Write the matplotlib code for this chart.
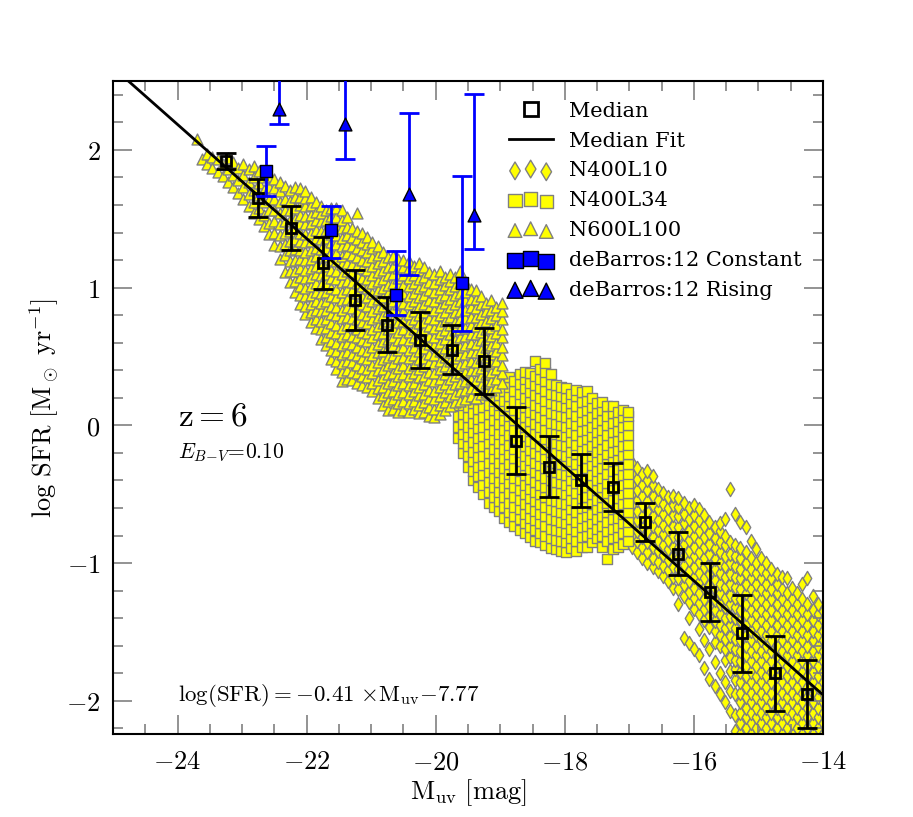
import matplotlib
matplotlib.use('Agg')
import matplotlib.pyplot as plt
from matplotlib.ticker import MultipleLocator, FuncFormatter

plt.rcParams['font.family'] = 'DejaVu Serif'
plt.rcParams['mathtext.fontset'] = 'cm'

## medianas del conjunto de simulaciones
med_x = [-23.25, -22.75, -22.25, -21.75, -21.25, -20.75, -20.25, -19.75, -19.25, -18.75,
         -18.25, -17.75, -17.25, -16.75, -16.25, -15.75, -15.25, -14.75, -14.25]
med_y = [1.92, 1.65, 1.43, 1.18, 0.91, 0.73, 0.62, 0.55, 0.47, -0.11,
         -0.30, -0.40, -0.45, -0.70, -0.93, -1.21, -1.51, -1.80, -1.95]
med_err = [0.06, 0.14, 0.16, 0.19, 0.22, 0.20, 0.20, 0.18, 0.24, 0.245,
           0.22, 0.19, 0.175, 0.14, 0.155, 0.21, 0.28, 0.27, 0.25]

## ajuste de la mediana
fit_slope = -0.414
fit_icpt = -7.752
fit_x = [-25.0, -14.0]

## de Barros et al. 2012
dbc_x = [-22.63, -21.63, -20.61, -19.59]
dbc_y = [1.845, 1.42, 0.944, 1.033]
dbc_lo = [0.18, 0.205, 0.14, 0.35]
dbc_hi = [0.18, 0.175, 0.325, 0.775]

dbr_x = [-22.43, -21.41, -20.41, -19.40]
dbr_y = [2.30, 2.19, 1.683, 1.525]
dbr_lo = [0.115, 0.255, 0.594, 0.247]
dbr_hi = [1.0, 1.0, 0.588, 0.884]

## N600L100 (triangulos), por columnas de Muv
tri_cols = [-23.70, -23.62, -23.54, -23.46, -23.38, -23.30, -23.22, -23.14, -23.06, -22.98,
            -22.90, -22.82, -22.74, -22.66, -22.58, -22.50, -22.42, -22.34, -22.26, -22.18,
            -22.10, -22.02, -21.94, -21.86, -21.78, -21.70, -21.62, -21.54, -21.46, -21.38,
            -21.30, -21.22, -21.14, -21.06, -20.98, -20.90, -20.82, -20.74, -20.66, -20.58,
            -20.50, -20.42, -20.34, -20.26, -20.18, -20.10, -20.02, -19.94, -19.86, -19.78,
            -19.70, -19.62, -19.54, -19.46, -19.38, -19.30, -19.22, -19.14, -19.06, -18.98]
tri_ys = [
    [2.08],
    [1.93],
    [1.90, 1.97],
    [1.87, 1.95],
    [1.84, 1.93],
    [1.81, 1.90],
    [1.77, 1.86, 1.94],
    [1.73, 1.82, 1.91],
    [1.69, 1.78, 1.87],
    [1.64, 1.73, 1.82, 1.90],
    [1.59, 1.68, 1.77, 1.86],
    [1.54, 1.62, 1.71, 1.80, 1.88],
    [1.50, 1.58, 1.67, 1.76, 1.85],
    [1.45, 1.53, 1.62, 1.71, 1.80],
    [1.39, 1.47, 1.56, 1.64, 1.73, 1.81],
    [1.31, 1.40, 1.48, 1.56, 1.64, 1.72, 1.79],
    [1.21, 1.30, 1.38, 1.46, 1.54, 1.62, 1.70, 1.77],
    [1.11, 1.24, 1.32, 1.40, 1.48, 1.56, 1.64, 1.74],
    [1.04, 1.12, 1.19, 1.27, 1.34, 1.41, 1.49, 1.56, 1.63, 1.71],
    [0.97, 1.05, 1.12, 1.20, 1.28, 1.35, 1.43, 1.50, 1.58, 1.66, 1.73],
    [0.88, 0.95, 1.01, 1.08, 1.14, 1.21, 1.27, 1.34, 1.40, 1.47, 1.53, 1.60, 1.66, 1.72],
    [0.81, 0.87, 0.94, 1.00, 1.07, 1.13, 1.20, 1.26, 1.33, 1.39, 1.46, 1.52, 1.59, 1.65, 1.70],
    [0.75, 0.82, 0.88, 0.95, 1.01, 1.08, 1.14, 1.21, 1.27, 1.34, 1.40, 1.47, 1.53, 1.60, 1.66],
    [0.71, 0.77, 0.84, 0.90, 0.97, 1.03, 1.10, 1.16, 1.23, 1.29, 1.36, 1.42, 1.49, 1.55, 1.62],
    [0.63, 0.70, 0.76, 0.83, 0.89, 0.96, 1.02, 1.09, 1.15, 1.22, 1.28, 1.35, 1.41, 1.48, 1.54, 1.59],
    [0.58, 0.64, 0.71, 0.77, 0.84, 0.90, 0.97, 1.03, 1.10, 1.16, 1.23, 1.29, 1.36, 1.42, 1.49, 1.56],
    [0.48, 0.55, 0.61, 0.68, 0.74, 0.81, 0.87, 0.94, 1.00, 1.07, 1.13, 1.20, 1.26, 1.33, 1.39, 1.46,
     1.52, 1.58],
    [0.41, 0.47, 0.54, 0.60, 0.67, 0.73, 0.80, 0.86, 0.93, 0.99, 1.06, 1.12, 1.19, 1.25, 1.32, 1.38,
     1.45, 1.51, 1.58],
    [0.32, 0.39, 0.45, 0.52, 0.58, 0.65, 0.71, 0.78, 0.84, 0.91, 0.97, 1.04, 1.10, 1.17, 1.23, 1.30,
     1.36, 1.43, 1.49, 1.56],
    [0.34, 0.40, 0.47, 0.53, 0.60, 0.66, 0.73, 0.79, 0.86, 0.92, 0.99, 1.05, 1.12, 1.18, 1.25, 1.31,
     1.38, 1.44, 1.51],
    [0.33, 0.39, 0.46, 0.52, 0.59, 0.65, 0.72, 0.78, 0.85, 0.91, 0.98, 1.04, 1.11, 1.17, 1.24, 1.30,
     1.37, 1.43],
    [0.31, 0.38, 0.44, 0.51, 0.57, 0.64, 0.70, 0.77, 0.83, 0.90, 0.96, 1.03, 1.09, 1.16, 1.22, 1.29,
     1.35, 1.41, 1.54],
    [0.29, 0.36, 0.42, 0.49, 0.55, 0.62, 0.68, 0.75, 0.81, 0.88, 0.94, 1.01, 1.07, 1.14, 1.20, 1.27,
     1.33, 1.40],
    [0.28, 0.35, 0.41, 0.48, 0.54, 0.61, 0.67, 0.74, 0.80, 0.87, 0.93, 1.00, 1.06, 1.13, 1.19, 1.26,
     1.32, 1.37],
    [0.25, 0.31, 0.38, 0.44, 0.51, 0.57, 0.64, 0.70, 0.77, 0.83, 0.90, 0.96, 1.03, 1.09, 1.16, 1.22,
     1.29, 1.33],
    [0.20, 0.27, 0.33, 0.40, 0.46, 0.53, 0.59, 0.66, 0.72, 0.79, 0.85, 0.92, 0.98, 1.05, 1.11, 1.18,
     1.24, 1.30],
    [0.15, 0.22, 0.28, 0.35, 0.41, 0.48, 0.54, 0.61, 0.67, 0.74, 0.80, 0.87, 0.93, 1.00, 1.06, 1.13,
     1.19, 1.26],
    [0.11, 0.18, 0.24, 0.31, 0.37, 0.44, 0.50, 0.57, 0.63, 0.70, 0.76, 0.83, 0.89, 0.96, 1.02, 1.09,
     1.15, 1.22],
    [0.12, 0.19, 0.25, 0.32, 0.38, 0.45, 0.51, 0.58, 0.64, 0.71, 0.77, 0.84, 0.90, 0.97, 1.03, 1.10,
     1.16, 1.23],
    [0.10, 0.16, 0.23, 0.29, 0.36, 0.42, 0.49, 0.55, 0.62, 0.68, 0.75, 0.81, 0.88, 0.94, 1.01, 1.07,
     1.14, 1.21],
    [0.11, 0.18, 0.24, 0.31, 0.37, 0.44, 0.50, 0.57, 0.63, 0.70, 0.76, 0.83, 0.89, 0.96, 1.02, 1.09,
     1.15, 1.20],
    [0.10, 0.16, 0.23, 0.29, 0.36, 0.42, 0.49, 0.55, 0.62, 0.68, 0.75, 0.81, 0.88, 0.94, 1.01, 1.07,
     1.14, 1.19],
    [0.12, 0.18, 0.25, 0.31, 0.38, 0.44, 0.51, 0.57, 0.64, 0.70, 0.77, 0.83, 0.90, 0.96, 1.03, 1.09,
     1.16],
    [0.09, 0.15, 0.22, 0.28, 0.35, 0.41, 0.48, 0.54, 0.61, 0.67, 0.74, 0.80, 0.87, 0.93, 1.00, 1.06,
     1.13, 1.18],
    [0.10, 0.17, 0.23, 0.30, 0.36, 0.43, 0.49, 0.56, 0.62, 0.69, 0.75, 0.82, 0.88, 0.95, 1.01, 1.08,
     1.15],
    [0.07, 0.13, 0.20, 0.26, 0.33, 0.39, 0.46, 0.52, 0.59, 0.65, 0.72, 0.78, 0.85, 0.91, 0.98, 1.04,
     1.11],
    [0.06, 0.12, 0.19, 0.25, 0.32, 0.38, 0.45, 0.51, 0.58, 0.64, 0.71, 0.77, 0.84, 0.90, 0.97, 1.03,
     1.10],
    [0.08, 0.15, 0.21, 0.28, 0.34, 0.41, 0.47, 0.54, 0.60, 0.67, 0.73, 0.80, 0.86, 0.93, 0.99, 1.06,
     1.12],
    [0.11, 0.17, 0.24, 0.30, 0.37, 0.43, 0.50, 0.56, 0.63, 0.69, 0.76, 0.82, 0.89, 0.95, 1.02, 1.08],
    [0.14, 0.21, 0.27, 0.34, 0.40, 0.47, 0.53, 0.60, 0.66, 0.73, 0.79, 0.86, 0.92, 0.99, 1.05, 1.10],
    [0.17, 0.23, 0.30, 0.36, 0.43, 0.49, 0.56, 0.62, 0.69, 0.75, 0.82, 0.88, 0.95, 1.01, 1.08],
    [0.18, 0.25, 0.31, 0.38, 0.44, 0.51, 0.57, 0.64, 0.70, 0.77, 0.83, 0.90, 0.96, 1.03, 1.12],
    [0.19, 0.26, 0.32, 0.39, 0.45, 0.52, 0.58, 0.65, 0.71, 0.78, 0.84, 0.91, 0.97, 1.04],
    [0.21, 0.27, 0.34, 0.40, 0.47, 0.53, 0.60, 0.66, 0.73, 0.79, 0.86, 0.92, 0.99],
    [0.20, 0.27, 0.33, 0.40, 0.46, 0.53, 0.59, 0.66, 0.72, 0.79, 0.85, 0.92, 0.98],
    [0.23, 0.29, 0.36, 0.42, 0.49, 0.55, 0.62, 0.68, 0.75, 0.81, 0.88, 0.94],
    [0.24, 0.31, 0.37, 0.44, 0.50, 0.57, 0.63, 0.70, 0.76, 0.83, 0.89],
    [0.26, 0.32, 0.39, 0.45, 0.52, 0.58, 0.65, 0.71, 0.78, 0.84, 0.91],
    [0.28, 0.34, 0.41, 0.47, 0.54, 0.60, 0.67, 0.73, 0.80, 0.86],
    [0.31, 0.38, 0.44, 0.51, 0.57, 0.64, 0.70, 0.77, 0.83, 0.89],
]

## N400L34 (cuadrados)
sq_cols = [-19.66, -19.58, -19.50, -19.42, -19.34, -19.26, -19.18, -19.10, -19.02, -18.94,
           -18.86, -18.78, -18.70, -18.62, -18.54, -18.46, -18.38, -18.30, -18.22, -18.14,
           -18.06, -17.98, -17.90, -17.82, -17.74, -17.66, -17.58, -17.50, -17.42, -17.34,
           -17.26, -17.18, -17.10, -17.02]
sq_ys = [
    [-0.09, -0.01, 0.07, 0.15, 0.22],
    [-0.20, -0.13, -0.06, 0.01, 0.08, 0.15, 0.22],
    [-0.30, -0.22, -0.15, -0.08, -0.01, 0.06, 0.13, 0.20, 0.27],
    [-0.40, -0.33, -0.26, -0.19, -0.12, -0.05, 0.02, 0.09, 0.16, 0.23, 0.29],
    [-0.45, -0.37, -0.30, -0.23, -0.16, -0.09, -0.02, 0.05, 0.12, 0.19, 0.26],
    [-0.50, -0.43, -0.36, -0.29, -0.22, -0.15, -0.08, -0.01, 0.06, 0.13, 0.20, 0.27],
    [-0.56, -0.48, -0.41, -0.34, -0.27, -0.20, -0.13, -0.06, 0.01, 0.08, 0.15, 0.22, 0.29],
    [-0.59, -0.52, -0.45, -0.38, -0.31, -0.24, -0.17, -0.10, -0.03, 0.04, 0.11, 0.18, 0.25, 0.32],
    [-0.62, -0.55, -0.48, -0.41, -0.34, -0.27, -0.20, -0.13, -0.06, 0.01, 0.08, 0.15, 0.22, 0.29],
    [-0.67, -0.59, -0.52, -0.45, -0.38, -0.31, -0.24, -0.17, -0.10, -0.03, 0.04, 0.11, 0.18, 0.25,
     0.33],
    [-0.70, -0.63, -0.56, -0.49, -0.42, -0.35, -0.28, -0.21, -0.14, -0.07, 0.00, 0.07, 0.14, 0.21,
     0.28, 0.35],
    [-0.73, -0.66, -0.59, -0.52, -0.45, -0.38, -0.31, -0.24, -0.17, -0.10, -0.03, 0.04, 0.11, 0.18,
     0.25, 0.32],
    [-0.76, -0.68, -0.61, -0.54, -0.47, -0.40, -0.33, -0.26, -0.19, -0.12, -0.05, 0.02, 0.09, 0.16,
     0.23, 0.30, 0.37],
    [-0.78, -0.71, -0.64, -0.57, -0.50, -0.43, -0.36, -0.29, -0.22, -0.15, -0.08, -0.01, 0.06, 0.13,
     0.20, 0.27, 0.34, 0.39],
    [-0.81, -0.74, -0.67, -0.60, -0.53, -0.46, -0.39, -0.32, -0.25, -0.18, -0.11, -0.04, 0.03, 0.10,
     0.17, 0.24, 0.31, 0.38],
    [-0.84, -0.76, -0.69, -0.62, -0.55, -0.48, -0.41, -0.34, -0.27, -0.20, -0.13, -0.06, 0.01, 0.08,
     0.15, 0.22, 0.29, 0.36, 0.47],
    [-0.85, -0.78, -0.71, -0.64, -0.57, -0.50, -0.43, -0.36, -0.29, -0.22, -0.15, -0.08, -0.01, 0.06,
     0.13, 0.20, 0.27, 0.34, 0.41],
    [-0.87, -0.80, -0.73, -0.66, -0.59, -0.52, -0.45, -0.38, -0.31, -0.24, -0.17, -0.10, -0.03, 0.04,
     0.11, 0.18, 0.25, 0.32, 0.39, 0.45],
    [-0.89, -0.82, -0.75, -0.68, -0.61, -0.54, -0.47, -0.40, -0.33, -0.26, -0.19, -0.12, -0.05, 0.02,
     0.09, 0.16, 0.23, 0.30, 0.37],
    [-0.90, -0.83, -0.76, -0.69, -0.62, -0.55, -0.48, -0.41, -0.34, -0.27, -0.20, -0.13, -0.06, 0.01,
     0.08, 0.15, 0.22, 0.29],
    [-0.91, -0.84, -0.77, -0.70, -0.63, -0.56, -0.49, -0.42, -0.35, -0.28, -0.21, -0.14, -0.07, 0.00,
     0.07, 0.14, 0.21, 0.28],
    [-0.92, -0.85, -0.78, -0.71, -0.64, -0.57, -0.50, -0.43, -0.36, -0.29, -0.22, -0.15, -0.08, -0.01,
     0.06, 0.13, 0.20, 0.27],
    [-0.89, -0.82, -0.75, -0.68, -0.61, -0.54, -0.47, -0.40, -0.33, -0.26, -0.19, -0.12, -0.05, 0.02,
     0.09, 0.16, 0.23],
    [-0.91, -0.84, -0.77, -0.70, -0.63, -0.56, -0.49, -0.42, -0.35, -0.28, -0.21, -0.14, -0.07, 0.00,
     0.07, 0.14, 0.21, 0.26],
    [-0.88, -0.81, -0.74, -0.67, -0.60, -0.53, -0.46, -0.39, -0.32, -0.25, -0.18, -0.11, -0.04, 0.03,
     0.10, 0.17, 0.24],
    [-0.88, -0.80, -0.73, -0.66, -0.59, -0.52, -0.45, -0.38, -0.31, -0.24, -0.17, -0.10, -0.03, 0.04,
     0.11, 0.18, 0.25],
    [-0.85, -0.78, -0.71, -0.64, -0.57, -0.50, -0.43, -0.36, -0.29, -0.22, -0.15, -0.08, -0.01, 0.06,
     0.13, 0.20],
    [-0.82, -0.75, -0.68, -0.61, -0.54, -0.47, -0.40, -0.33, -0.26, -0.19, -0.12, -0.05, 0.02, 0.09,
     0.16],
    [-0.88, -0.80, -0.73, -0.66, -0.59, -0.52, -0.45, -0.38, -0.31, -0.24, -0.17, -0.10, -0.03, 0.04,
     0.11, 0.17],
    [-0.97, -0.84, -0.77, -0.70, -0.63, -0.56, -0.49, -0.42, -0.35, -0.28, -0.21, -0.14, -0.07, 0.00,
     0.07, 0.14],
    [-0.90, -0.82, -0.75, -0.68, -0.61, -0.54, -0.47, -0.40, -0.33, -0.26, -0.19, -0.12, -0.05, 0.02,
     0.09, 0.14],
    [-0.88, -0.81, -0.74, -0.67, -0.60, -0.53, -0.46, -0.39, -0.32, -0.25, -0.18, -0.11, -0.04, 0.03,
     0.10],
    [-0.86, -0.78, -0.71, -0.64, -0.57, -0.50, -0.43, -0.36, -0.29, -0.22, -0.15, -0.08, -0.01, 0.06,
     0.11],
    [-0.84, -0.77, -0.70, -0.63, -0.56, -0.49, -0.42, -0.35, -0.28, -0.21, -0.14, -0.07, 0.00, 0.07,
     0.10],
]

## N400L10 (rombos)
dia_cols = [-16.96, -16.88, -16.80, -16.72, -16.64, -16.56, -16.48, -16.40, -16.32, -16.24,
            -16.16, -16.08, -16.00, -15.92, -15.84, -15.76, -15.68, -15.60, -15.52, -15.44,
            -15.36, -15.28, -15.20, -15.12, -15.04, -14.96, -14.88, -14.80, -14.72, -14.64,
            -14.56, -14.48, -14.40, -14.32, -14.24, -14.16, -14.08, -14.00]
dia_ys = [
    [-0.88, -0.80, -0.73, -0.65, -0.58, -0.50, -0.43, -0.35, -0.27],
    [-0.92, -0.84, -0.77, -0.69, -0.62, -0.54, -0.47, -0.39, -0.31],
    [-0.96, -0.88, -0.81, -0.73, -0.66, -0.58, -0.51, -0.43, -0.35],
    [-1.00, -0.92, -0.85, -0.77, -0.70, -0.62, -0.55, -0.47, -0.40, -0.33],
    [-1.03, -0.96, -0.88, -0.81, -0.73, -0.66, -0.58, -0.51, -0.43, -0.37],
    [-1.06, -0.99, -0.91, -0.84, -0.76, -0.69, -0.61, -0.54, -0.46],
    [-1.09, -1.02, -0.94, -0.87, -0.79, -0.72, -0.64, -0.57, -0.49],
    [-1.13, -1.05, -0.98, -0.90, -0.83, -0.75, -0.68, -0.60, -0.52],
    [-1.18, -1.10, -1.03, -0.95, -0.88, -0.80, -0.73, -0.65, -0.58, -0.51],
    [-1.30, -1.19, -1.11, -1.04, -0.96, -0.89, -0.81, -0.74, -0.66, -0.59, -0.53],
    [-1.54, -1.24, -1.16, -1.09, -1.01, -0.94, -0.86, -0.79, -0.71, -0.64, -0.56],
    [-1.58, -1.40, -1.28, -1.21, -1.13, -1.06, -0.98, -0.91, -0.83, -0.76, -0.68, -0.60],
    [-1.62, -1.33, -1.25, -1.18, -1.10, -1.03, -0.95, -0.88, -0.80, -0.73, -0.65, -0.58],
    [-1.67, -1.48, -1.37, -1.29, -1.22, -1.14, -1.07, -0.99, -0.92, -0.84, -0.77, -0.69, -0.61],
    [-1.76, -1.56, -1.41, -1.33, -1.26, -1.18, -1.11, -1.03, -0.96, -0.88, -0.81, -0.73, -0.65],
    [-1.84, -1.62, -1.46, -1.38, -1.31, -1.23, -1.16, -1.08, -1.01, -0.93, -0.86, -0.78, -0.70],
    [-1.89, -1.72, -1.57, -1.49, -1.42, -1.34, -1.27, -1.19, -1.12, -1.04, -0.97, -0.89, -0.82,
     -0.74],
    [-1.95, -1.80, -1.60, -1.52, -1.45, -1.37, -1.30, -1.22, -1.15, -1.07, -1.00, -0.92, -0.85,
     -0.77, -0.71],
    [-2.01, -1.86, -1.70, -1.62, -1.55, -1.47, -1.40, -1.32, -1.25, -1.17, -1.10, -1.02, -0.95,
     -0.87, -0.80, -0.68],
    [-2.07, -1.93, -1.78, -1.68, -1.60, -1.53, -1.45, -1.38, -1.30, -1.23, -1.15, -1.08, -1.00,
     -0.93, -0.85, -0.46],
    [-2.22, -2.10, -1.95, -1.85, -1.77, -1.70, -1.62, -1.55, -1.47, -1.40, -1.32, -1.25, -1.17,
     -1.10, -1.02, -0.95, -0.87, -0.64],
    [-2.24, -2.16, -2.09, -2.01, -1.94, -1.86, -1.79, -1.71, -1.64, -1.56, -1.49, -1.41, -1.34,
     -1.26, -1.19, -1.11, -1.04, -0.96, -0.89, -0.70],
    [-2.20, -2.12, -2.05, -1.97, -1.90, -1.82, -1.75, -1.67, -1.60, -1.52, -1.45, -1.37, -1.30,
     -1.22, -1.15, -1.07, -1.00, -0.92, -0.74],
    [-2.24, -2.16, -2.09, -2.01, -1.94, -1.86, -1.79, -1.71, -1.64, -1.56, -1.49, -1.41, -1.34,
     -1.26, -1.19, -1.11, -1.04, -0.96, -0.84],
    [-2.20, -2.12, -2.05, -1.97, -1.90, -1.82, -1.75, -1.67, -1.60, -1.52, -1.45, -1.37, -1.30,
     -1.22, -1.15, -1.07, -1.00, -0.90],
    [-2.24, -2.16, -2.09, -2.01, -1.94, -1.86, -1.79, -1.71, -1.64, -1.56, -1.49, -1.41, -1.34,
     -1.26, -1.19, -1.11, -1.04, -0.96],
    [-2.20, -2.12, -2.05, -1.97, -1.90, -1.82, -1.75, -1.67, -1.60, -1.52, -1.45, -1.37, -1.30,
     -1.22, -1.15, -1.07, -1.00],
    [-2.24, -2.16, -2.09, -2.01, -1.94, -1.86, -1.79, -1.71, -1.64, -1.56, -1.49, -1.41, -1.34,
     -1.26, -1.19, -1.11, -1.04],
    [-2.20, -2.12, -2.05, -1.97, -1.90, -1.82, -1.75, -1.67, -1.60, -1.52, -1.45, -1.37, -1.30,
     -1.22, -1.15, -1.08],
    [-2.24, -2.16, -2.09, -2.01, -1.94, -1.86, -1.79, -1.71, -1.64, -1.56, -1.49, -1.41, -1.34,
     -1.26, -1.19, -1.10],
    [-2.20, -2.12, -2.05, -1.97, -1.90, -1.82, -1.75, -1.67, -1.60, -1.52, -1.45, -1.37, -1.30,
     -1.22, -1.11],
    [-2.24, -2.16, -2.09, -2.01, -1.94, -1.86, -1.79, -1.71, -1.64, -1.56, -1.49, -1.41, -1.34,
     -1.26, -1.18],
    [-2.20, -2.12, -2.05, -1.97, -1.90, -1.82, -1.75, -1.67, -1.60, -1.52, -1.45, -1.37, -1.30,
     -1.22],
    [-2.24, -2.16, -2.09, -2.01, -1.94, -1.86, -1.79, -1.71, -1.64, -1.56, -1.49, -1.41, -1.34,
     -1.26, -1.15],
    [-2.20, -2.12, -2.05, -1.97, -1.90, -1.82, -1.75, -1.67, -1.60, -1.52, -1.45, -1.37, -1.30,
     -1.11],
    [-2.24, -2.16, -2.09, -2.01, -1.94, -1.86, -1.79, -1.71, -1.64, -1.56, -1.49, -1.41, -1.34,
     -1.24],
    [-2.20, -2.12, -2.05, -1.97, -1.90, -1.82, -1.75, -1.67, -1.60, -1.52, -1.45, -1.37, -1.30],
    [-2.24, -2.16, -2.09, -2.01, -1.94, -1.86, -1.79, -1.71, -1.64, -1.56, -1.49, -1.41, -1.35],
]


def expand(cols, ys):
    xs, yy = [], []
    for c, col in zip(cols, ys):
        xs += [c] * len(col)
        yy += col
    return xs, yy


fig = plt.figure(figsize=(9.13, 8.17), dpi=100)
ax = fig.add_axes([0.1238, 0.1016, 0.7776, 0.7993])

## nubes de simulaciones
edge = '#808080'
dx, dy = expand(dia_cols, dia_ys)
h_dia = ax.scatter(dx, dy, s=52, marker='d', facecolor='#ffff00', edgecolor=edge,
                   linewidth=1.0, label='N400L10', zorder=1)
sx, sy = expand(sq_cols, sq_ys)
h_sq = ax.scatter(sx, sy, s=60, marker='s', facecolor='#ffff00', edgecolor=edge,
                  linewidth=1.0, label='N400L34', zorder=1.1)
tx, ty = expand(tri_cols, tri_ys)
h_tri = ax.scatter(tx, ty, s=62, marker='^', facecolor='#ffff00', edgecolor=edge,
                   linewidth=1.0, label='N600L100', zorder=1.2)

## ajuste
fit_y = [fit_slope * v + fit_icpt for v in fit_x]
h_fit, = ax.plot(fit_x, fit_y, color='k', lw=2, label='Median Fit', zorder=3)

## medianas
ax.errorbar(med_x, med_y, yerr=med_err, fmt='none', ecolor='k', elinewidth=2,
            capsize=7, capthick=2, zorder=4)
h_med, = ax.plot(med_x, med_y, 's', mfc='none', mec='k', mew=2, ms=7.5,
                 label='Median', zorder=4.5)

## de Barros
ax.errorbar(dbc_x, dbc_y, yerr=[dbc_lo, dbc_hi], fmt='none', ecolor='#0000ff',
            elinewidth=2, capsize=7, capthick=2, zorder=5)
h_dbc = ax.scatter(dbc_x, dbc_y, s=80, marker='s', facecolor='#0000ff', edgecolor='k',
                   linewidth=1.0, label='deBarros:12 Constant', zorder=6)
ax.errorbar(dbr_x, dbr_y, yerr=[dbr_lo, dbr_hi], fmt='none', ecolor='#0000ff',
            elinewidth=2, capsize=7, capthick=2, zorder=5)
h_dbr = ax.scatter(dbr_x, dbr_y, s=85, marker='^', facecolor='#0000ff', edgecolor='k',
                   linewidth=1.0, label='deBarros:12 Rising', zorder=6)

ax.set_xlim(-25, -14)
ax.set_ylim(-2.24, 2.5)

ax.xaxis.set_major_locator(MultipleLocator(2))
ax.xaxis.set_minor_locator(MultipleLocator(0.5))
ax.yaxis.set_major_locator(MultipleLocator(1))
ax.yaxis.set_minor_locator(MultipleLocator(0.2))
fmt = FuncFormatter(lambda v, p: r'$%g$' % v)
ax.xaxis.set_major_formatter(fmt)
ax.yaxis.set_major_formatter(fmt)
ax.tick_params(which='both', direction='in', top=True, right=True, color='0.5',
               width=1.2, labelsize=19)
ax.tick_params(which='major', length=14)
ax.tick_params(which='minor', length=7)
ax.tick_params(axis='x', pad=11)
ax.tick_params(axis='y', pad=9)
for sp in ax.spines.values():
    sp.set_linewidth(1.5)

ax.set_xlabel(r'$\mathrm{M}_{\mathrm{uv}}\ [\mathrm{mag}]$', fontsize=19, labelpad=2)
ax.set_ylabel(r'$\log\,\mathrm{SFR}\ [\mathrm{M}_\odot\ \mathrm{yr}^{-1}]$', fontsize=19)

ax.text(0.0915, 0.473, r'$\mathrm{z}=6$', transform=ax.transAxes, fontsize=24,
        va='baseline')
ax.text(0.0915, 0.423, r'$E_{B{-}V}\!=\!0.10$', transform=ax.transAxes, fontsize=15.5,
        va='baseline')
ax.text(0.0915, 0.051, r'$\log(\mathrm{SFR}) = -0.41\ {\times}\mathrm{M}_{\mathrm{uv}}{-}7.77$',
        transform=ax.transAxes, fontsize=16.5, va='baseline')

ax.legend(handles=[h_med, h_fit, h_dia, h_sq, h_tri, h_dbc, h_dbr],
          loc='upper left', bbox_to_anchor=(0.531, 0.997), frameon=False,
          fontsize=15, numpoints=1, scatterpoints=3, markerscale=1.25,
          handlelength=2.1, handletextpad=0.77, labelspacing=0.52)

fig.savefig('out.png', dpi=100)
